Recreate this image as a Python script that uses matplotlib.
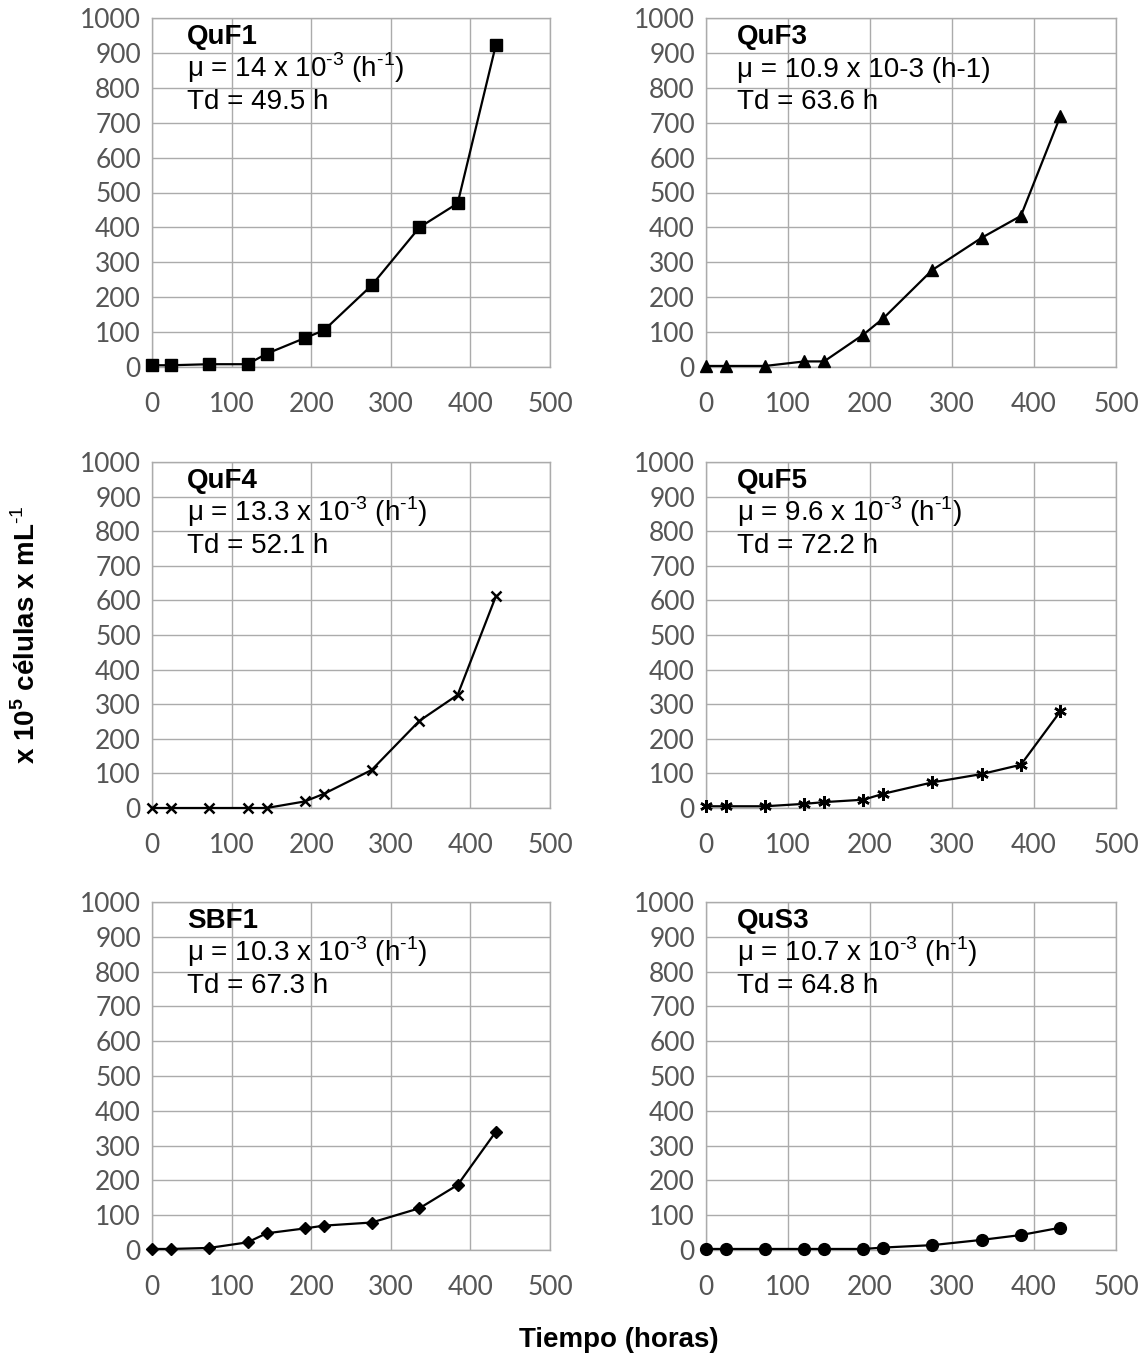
import matplotlib
matplotlib.use("Agg")
import matplotlib.pyplot as plt
from matplotlib.transforms import offset_copy

plt.rcParams['mathtext.fontset'] = 'custom'
plt.rcParams['mathtext.rm'] = 'Liberation Sans'
plt.rcParams['mathtext.bf'] = 'Liberation Sans:bold'

hours = [0, 24, 72, 120, 144, 192, 216, 276, 336, 384, 432]

quf1 = [5, 5, 8, 8, 38, 83, 105, 234, 400, 469, 923]
quf3 = [3, 3, 3, 16, 16, 93, 139, 278, 370, 433, 718]
quf4 = [0, 0, 0, 0, 0, 19, 41, 110, 252, 327, 612]
quf5 = [5, 5, 5, 12, 17, 24, 41, 74, 98, 125, 279]
sbf1 = [3, 3, 6, 22, 48, 62, 70, 79, 120, 187, 340]
qus3 = [3, 3, 3, 3, 3, 3, 7, 14, 29, 43, 64]

names = ["QuF1", "QuF3", "QuF4", "QuF5", "SBF1", "QuS3"]
SUP3 = r"$^{\text{-3}}$"
SUP1 = r"$^{\text{-1}}$"
mu_lines = [
    "μ = 14 x 10" + SUP3 + " (h" + SUP1 + ")",
    "μ = 10.9 x 10-3 (h-1)",
    "μ = 13.3 x 10" + SUP3 + " (h" + SUP1 + ")",
    "μ = 9.6 x 10" + SUP3 + " (h" + SUP1 + ")",
    "μ = 10.3 x 10" + SUP3 + " (h" + SUP1 + ")",
    "μ = 10.7 x 10" + SUP3 + " (h" + SUP1 + ")",
]
td_lines = ["Td = 49.5 h", "Td = 63.6 h", "Td = 52.1 h", "Td = 72.2 h", "Td = 67.3 h", "Td = 64.8 h"]
series = [quf1, quf3, quf4, quf5, sbf1, qus3]
markers = ["s", "^", "x", (6, 2, 0), "D", "o"]
msizes = [8.5, 9, 7.5, 9, 6.5, 8.5]

x_ticks = [0, 100, 200, 300, 400, 500]
y_ticks = list(range(0, 1001, 100))

W, H = 1144, 1361
fig = plt.figure(figsize=(W / 100, H / 100), dpi=100)

# panel boxes in pixels: left, right, top, bottom
boxes = [
    (152, 550, 18, 367), (706, 1116, 18, 367),
    (152, 550, 462, 808), (706, 1116, 462, 808),
    (152, 550, 902, 1250), (706, 1116, 902, 1250),
]
text_dx = [35, 31, 35, 31, 35, 31]

grid_col = "#ababab"
for i, (l, r, t, b) in enumerate(boxes):
    ax = fig.add_axes([l / W, 1 - b / H, (r - l) / W, (b - t) / H])
    ax.set_xlim(0, 500)
    ax.set_ylim(0, 1000)
    ax.set_xticks(x_ticks)
    ax.set_yticks(y_ticks)
    ax.grid(True, color=grid_col, linewidth=1.0)
    ax.set_axisbelow(True)
    for s in ax.spines.values():
        s.set_color(grid_col)
        s.set_linewidth(1.0)
    ax.tick_params(length=0, labelsize=19, labelcolor="#555555")
    ax.tick_params(axis="x", pad=18)
    ax.tick_params(axis="y", pad=8)
    for lab in ax.get_xticklabels() + ax.get_yticklabels():
        lab.set_family("Lato")
    mk = markers[i]
    ax.plot(hours, series[i], color="black", linewidth=1.6,
            marker=mk, markersize=msizes[i], markerfacecolor="black",
            markeredgecolor="black", markeredgewidth=1.8 if mk in ("x", (6, 2, 0)) else 1.0,
            clip_on=False, zorder=3)
    dx = text_dx[i] * 72 / 100
    for k, (txt, dy_px, wt) in enumerate([(names[i], 26, "bold"),
                                          (mu_lines[i], 59, "normal"),
                                          (td_lines[i], 91, "normal")]):
        tr = offset_copy(ax.transAxes, fig=fig, x=dx, y=-dy_px * 72 / 100, units="points")
        ax.text(0, 1, txt, transform=tr, fontsize=20, fontweight=wt,
                family="Liberation Sans", va="baseline", ha="left")

fig.text(27 / W, 1 - 635 / H, r"x 10$^{\mathbf{5}}$ células x mL$^{\mathbf{\text{-1}}}$",
         rotation=90, fontsize=20, fontweight="bold", family="Liberation Sans",
         ha="center", va="center")
fig.text(619 / W, 1 - 1340 / H, "Tiempo (horas)", fontsize=20, fontweight="bold",
         family="Liberation Sans", ha="center", va="center")

fig.savefig("out.png", dpi=100, facecolor="white")
